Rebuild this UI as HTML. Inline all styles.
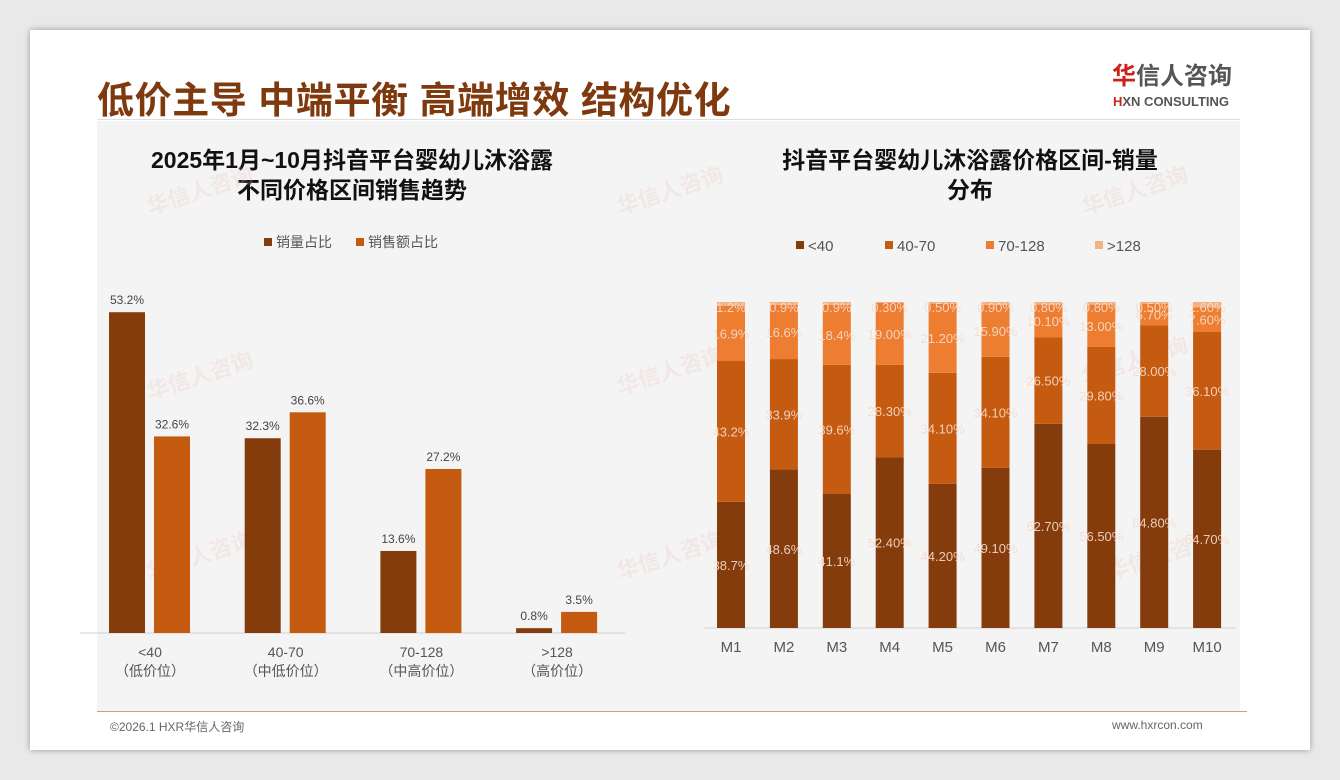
<!DOCTYPE html>
<html><head><meta charset="utf-8">
<style>
body{margin:0;width:1340px;height:780px;background:#e9e9e9;font-family:"Liberation Sans","Noto Sans CJK SC",sans-serif;position:relative;overflow:hidden}
.card{position:absolute;left:30px;top:30px;width:1280px;height:720px;background:#fff;box-shadow:0 0 6px rgba(0,0,0,.35)}
.abs{position:absolute}
</style></head><body>
<div class="card"></div>
<div class="abs" style="left:97px;top:121px;width:1143px;height:590px;background:#f4f4f4"></div>
<div class="abs" style="left:97px;top:70px;font-size:37px;font-weight:bold;color:#7e3a0e;letter-spacing:0.6px;white-space:nowrap">低价主导 中端平衡 高端增效 结构优化</div>
<div class="abs" style="left:97px;top:119px;width:1143px;height:1px;background:#ddd"></div>
<div class="abs" style="left:1112px;top:64px;font-size:24px;font-weight:bold;color:#555;line-height:26px"><span style="color:#d0201a">华</span>信人咨询</div>
<div class="abs" style="left:1113px;top:94px;font-size:13px;font-weight:bold;color:#555"><span style="color:#d0201a">H</span>XN CONSULTING</div>
<div class="abs" style="left:97px;top:711px;width:1150px;height:1px;background:#c9a184"></div>
<div class="abs" style="left:110px;top:718px;font-size:12px;color:#666">©2026.1 HXR华信人咨询</div>
<div class="abs" style="left:1112px;top:718px;font-size:12px;color:#666">www.hxrcon.com</div>
<div class="abs" style="left:97px;top:145px;width:510px;text-align:center;font-size:23px;font-weight:bold;color:#111;line-height:30px">2025年1月~10月抖音平台婴幼儿沐浴露<br>不同价格区间销售趋势</div>
<div class="abs" style="left:715px;top:145px;width:510px;text-align:center;font-size:23px;font-weight:bold;color:#111;line-height:30px">抖音平台婴幼儿沐浴露价格区间-销量<br>分布</div>
<svg class="abs" style="left:0;top:0" width="1340" height="780" id="svg"></svg>
<script>
const groupCats=["<40","40-70","70-128",">128"];
const groupSub=["（低价位）","（中低价位）","（中高价位）","（高价位）"];
const volShare=[53.2,32.3,13.6,0.8];
const amtShare=[32.6,36.6,27.2,3.5];
const months=["M1","M2","M3","M4","M5","M6","M7","M8","M9","M10"];
const s40=[38.7,48.6,41.1,52.4,44.2,49.1,62.7,56.5,64.8,54.7];
const s4070=[43.2,33.9,39.6,28.3,34.1,34.1,26.5,29.8,28.0,36.1];
const s70128=[16.9,16.6,18.4,19.0,21.2,15.9,10.1,13.0,6.7,7.6];
const s128=[1.2,0.9,0.9,0.3,0.5,0.9,0.8,0.8,0.5,1.6];
const lbl40=["38.7%","48.6%","41.1%","52.40%","44.20%","49.10%","62.70%","56.50%","64.80%","54.70%"];
const lbl4070=["43.2%","33.9%","39.6%","28.30%","34.10%","34.10%","26.50%","29.80%","28.00%","36.10%"];
const lbl70128=["16.9%","16.6%","18.4%","19.00%","21.20%","15.90%","10.10%","13.00%","6.70%","7.60%"];
const lbl128=["1.2%","0.9%","0.9%","0.30%","0.50%","0.90%","0.80%","0.80%","0.50%","1.60%"];
const svg=document.getElementById('svg');const NS="http://www.w3.org/2000/svg";
function mk(t,a,txt){const e=document.createElementNS(NS,t);for(const k in a)e.setAttribute(k,a[k]);if(txt!==undefined)e.textContent=txt;svg.appendChild(e);return e;}
const C1="#843c0c",C2="#c55a11",C3="#ed7d31",C4="#f4b183";
// watermarks
[[150,215],[620,215],[1085,215],[150,400],[620,395],[1085,385],[150,580],[620,580],[1110,580]].forEach(p=>{
 const w=mk('text',{x:p[0],y:p[1],'font-size':22,'font-weight':'bold',fill:'#e6c4bc','fill-opacity':0.25,transform:`rotate(-18 ${p[0]} ${p[1]})`},'华信人咨询');
 
 
});
// left chart
const yB=633,pxPer=6.03;
function yL(v){return yB-v*pxPer;}
function cxL(i){return 150+i*135.7;}
let ln=mk('line',{x1:80,x2:625,y1:yB,y2:yB,stroke:'#d0d0d0'});


groupCats.forEach((c,i)=>{
 const cx=cxL(i);
 let r=mk('rect',{x:cx-41,y:yL(volShare[i]),width:36,height:volShare[i]*pxPer,fill:C1});
 
 
 let r2=mk('rect',{x:cx+4,y:yL(amtShare[i]),width:36,height:amtShare[i]*pxPer,fill:C2});
 
 
 let t=mk('text',{x:cx-23,y:yL(volShare[i])-8,'font-size':12,fill:'#444','text-anchor':'middle'},volShare[i].toFixed(1)+'%');
 
 
 let t2=mk('text',{x:cx+22,y:yL(amtShare[i])-8,'font-size':12,fill:'#444','text-anchor':'middle'},amtShare[i].toFixed(1)+'%');
 
 
 let a=mk('text',{x:cx,y:657,'font-size':14,fill:'#555','text-anchor':'middle'},c);
 
 
 let b=mk('text',{x:cx,y:676,'font-size':14,fill:'#555','text-anchor':'middle'},groupSub[i]);
 
 
});
[[C1,264,'销量占比'],[C2,356,'销售额占比']].forEach(l=>{
 let s=mk('rect',{x:l[1],y:238,width:8,height:8,fill:l[0]});
 
 
 let t=mk('text',{x:l[1]+12,y:247,'font-size':14,fill:'#555'},l[2]);
 
 
});
// right chart
const yT=302,yB2=628,H=yB2-yT;
function cxR(i){return 731+i*52.9;}
let ln2=mk('line',{x1:704,x2:1236,y1:yB2,y2:yB2,stroke:'#d0d0d0'});


const series=[[s40,C1,lbl40],[s4070,C2,lbl4070],[s70128,C3,lbl70128],[s128,C4,lbl128]];
months.forEach((m,i)=>{
 const tot=s40[i]+s4070[i]+s70128[i]+s128[i];let acc=0;
 series.forEach((s,k)=>{
  const h=s[0][i]/tot*H;const y=yB2-acc-h;acc+=h;
  let r=mk('rect',{x:cxR(i)-14,y:y,width:28,height:h,fill:s[1]});
  
  
  let t=mk('text',{x:cxR(i),y:k==3?y+10:y+h/2+5,'font-size':13,fill:'#f6dccb','fill-opacity':0.9,'text-anchor':'middle'},s[2][i]);
  
  
 });
 let a=mk('text',{x:cxR(i),y:652,'font-size':15,fill:'#555','text-anchor':'middle'},m);
 
 
});
[[C1,796,'<40'],[C2,885,'40-70'],[C3,986,'70-128'],[C4,1095,'>128']].forEach(l=>{
 let s=mk('rect',{x:l[1],y:241,width:8,height:8,fill:l[0]});
 
 
 let t=mk('text',{x:l[1]+12,y:251,'font-size':15,fill:'#555'},l[2]);
 
 
});
</script>
</body></html>
